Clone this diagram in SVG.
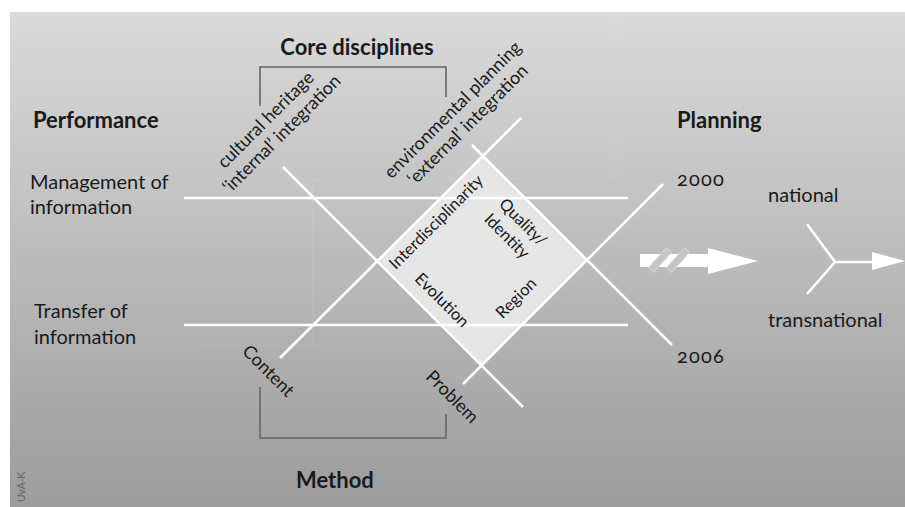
<svg xmlns="http://www.w3.org/2000/svg" width="905" height="507" viewBox="0 0 905 507">
<defs>
<linearGradient id="bg" x1="0" y1="12" x2="0" y2="507" gradientUnits="userSpaceOnUse">
<stop offset="0" stop-color="#dadada"/>
<stop offset="1" stop-color="#9c9c9c"/>
</linearGradient>
<style>
.w{stroke:#ffffff;stroke-width:2.6;fill:none;stroke-linecap:butt}
.br{stroke:#666666;stroke-width:1.6;fill:none}
.t{font-family:Lato,"Open Sans","Liberation Sans",sans-serif;fill:#1a1a1a}
.h{font-size:22px;font-weight:bold}
.r{font-size:20px}
.g{font-size:18px}
.d{font-size:16.5px}
.n{font-size:20px;font-variant-numeric:oldstyle-nums;letter-spacing:1.2px}
.faint{stroke:#ffffff;stroke-opacity:0.12;stroke-width:1;fill:none}
.stripe{fill:#c4c4c4;stroke:#dcdcdc;stroke-width:1}
</style>
</defs>
<rect x="0" y="0" width="905" height="507" fill="#ffffff"/>
<rect x="10" y="12" width="895" height="495" fill="url(#bg)"/>
<g id="artifacts">
<path class="faint" d="M10 179H616V12 M313 179V346 M200 346H313"/>
</g>
<g id="diamond">
<polygon points="482.5,155.5 586.5,259.5 481,365 377,261" fill="#e6e6e6"/>
</g>
<g id="connectors">
<line class="w" x1="184" y1="198" x2="628" y2="198"/>
<line class="w" x1="184" y1="325" x2="628" y2="325"/>
<line class="w" x1="283" y1="167" x2="523" y2="407"/>
<line class="w" x1="280" y1="358" x2="521" y2="118"/>
<line class="w" x1="472" y1="145" x2="672" y2="345"/>
<line class="w" x1="463" y1="384" x2="663" y2="184"/>
<path class="br" d="M260 106V67H446V97"/>
<path class="br" d="M260 387V438H446V414"/>
<path class="w" d="M807 224L835 262L807 294M835 262H872"/>
<polygon points="872,252 905,261 872,270" fill="#ffffff"/>
</g>
<g id="bigarrow">
<polygon points="640,254 708,254 708,248 758,261 708,274 708,267 640,267" fill="#ffffff"/>
<polygon class="stripe" points="648.5,267.5 653.5,272.5 671.5,252.5 666.5,247.5"/>
<polygon class="stripe" points="666.5,267.5 671.5,272.5 689.5,252.5 684.5,247.5"/>
</g>
<g id="titles">
<text class="t h" x="357" y="55" text-anchor="middle">Core disciplines</text>
<text class="t h" x="33" y="128">Performance</text>
<text class="t h" x="677" y="128">Planning</text>
<text class="t h" x="296" y="488">Method</text>
</g>
<g id="performance-items">
<text class="t r" x="30" y="189">Management of</text>
<text class="t r" x="30" y="214">information</text>
<text class="t r" x="34" y="318">Transfer of</text>
<text class="t r" x="34" y="344">information</text>
</g>
<g id="core-labels">
<text class="t g" text-anchor="middle" transform="translate(270,124) rotate(-45)">cultural heritage</text>
<text class="t g" text-anchor="middle" transform="translate(286,138) rotate(-45)">‘internal’ integration</text>
<text class="t g" text-anchor="middle" transform="translate(457,114) rotate(-45)">environmental planning</text>
<text class="t g" text-anchor="middle" transform="translate(472,129) rotate(-45)">‘external’ integration</text>
</g>
<g id="method-labels">
<text class="t g" text-anchor="middle" transform="translate(264,375) rotate(45)">Content</text>
<text class="t g" text-anchor="middle" transform="translate(448,401) rotate(45)">Problem</text>
</g>
<g id="diamond-labels">
<text class="t d" text-anchor="middle" transform="translate(440,226) rotate(-45)">Interdisciplinarity</text>
<text class="t d" text-anchor="middle" transform="translate(519,226) rotate(45)">Quality/</text>
<text class="t d" text-anchor="middle" transform="translate(503,240) rotate(45)">Identity</text>
<text class="t d" text-anchor="middle" transform="translate(438,304) rotate(45)">Evolution</text>
<text class="t d" text-anchor="middle" transform="translate(520,302) rotate(-45)">Region</text>
</g>
<g id="planning-labels">
<text class="t n" x="677" y="186">2000</text>
<text class="t n" x="677" y="363">2006</text>
<text class="t r" x="768" y="202">national</text>
<text class="t r" x="768" y="327">transnational</text>
</g>
<text x="25" y="502" transform="rotate(-90 25 502)" font-family="Liberation Sans, sans-serif" font-size="10.5" fill="#666666">UvA-K</text>
</svg>
